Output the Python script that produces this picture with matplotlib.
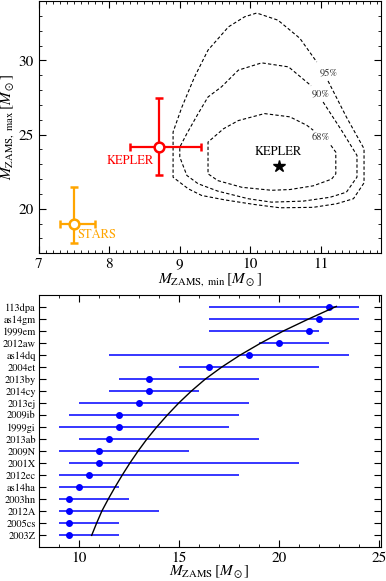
import numpy as np
import matplotlib
matplotlib.use('Agg')
import matplotlib.pyplot as plt
from matplotlib.ticker import MultipleLocator

plt.rcParams['font.family'] = ['STIXGeneral', 'DejaVu Serif']
plt.rcParams['mathtext.fontset'] = 'stix'
plt.rcParams['xtick.direction'] = 'in'
plt.rcParams['ytick.direction'] = 'in'

# ---- top panel: confidence contours (vertices, label gap at the ends)
c68_x = [11.14, 11.21, 11.21, 11.15, 10.89, 10.56, 10.30, 9.88, 9.54, 9.40, 9.40, 9.62, 9.83, 10.20, 10.56, 10.80, 10.89]
c68_y = [24.28, 23.82, 22.36, 22.00, 21.55, 21.30, 21.25, 21.45, 21.90, 22.36, 24.50, 25.40, 25.95, 26.42, 26.20, 25.63, 25.30]
c90_x = [11.03, 11.29, 11.51, 11.51, 11.36, 11.13, 10.75, 10.30, 9.97, 9.54, 9.26, 9.10, 9.00, 9.00, 9.10, 9.26, 9.40, 9.59, 9.83, 10.16, 10.54, 10.86]
c90_y = [27.20, 25.30, 23.60, 22.14, 21.12, 20.78, 20.52, 20.45, 20.68, 21.19, 21.69, 22.25, 23.49, 24.16, 25.07, 26.42, 27.54, 28.22, 29.35, 29.84, 29.57, 28.30]
c95_x = [11.10, 11.36, 11.61, 11.61, 11.46, 11.22, 10.89, 10.42, 10.06, 9.64, 9.31, 9.12, 8.905, 8.905, 9.03, 9.21, 9.40, 9.69, 9.92, 10.09, 10.39, 10.70, 10.94]
c95_y = [28.62, 26.19, 24.05, 21.75, 20.68, 20.34, 20.10, 20.07, 20.29, 20.60, 20.90, 21.35, 22.13, 25.18, 26.86, 28.90, 30.70, 32.27, 32.95, 33.20, 32.72, 31.50, 29.90]
contour_labels = ['68%', '90%', '95%']
label_x = [11.0, 11.0, 11.11]
label_y = [24.80, 27.75, 29.20]

kepler_best = (10.4, 22.9)
kepler_fit = dict(x=8.7, y=24.2, xlo=8.3, xhi=9.3, ylo=22.3, yhi=27.5)
stars_fit = dict(x=7.5, y=19.0, xlo=7.3, xhi=7.8, ylo=17.7, yhi=21.5)

# ---- bottom panel: SNe (bottom to top)
sn_names = ['2003Z', '2005cs', '2012A', '2003hn', 'as14ha', '2012ec', '2001X', '2009N', '2013ab', '1999gi',
            '2009ib', '2013ej', '2014cy', '2013by', '2004et', 'as14dq', '2012aw', '1999em', 'as14gm', '113dpa']
sn_mass = [9.5, 9.5, 9.5, 9.5, 10.0, 10.5, 11.0, 11.0, 11.5, 12.0, 12.0, 13.0, 13.5, 13.5, 16.5, 18.5, 20.0, 21.5, 22.0, 22.5]
sn_lo = [9.0, 9.0, 9.0, 9.0, 9.0, 9.0, 9.5, 9.0, 10.0, 9.0, 9.5, 10.0, 11.5, 12.0, 15.0, 11.5, 19.0, 16.5, 16.5, 16.5]
sn_hi = [12.0, 12.0, 14.0, 12.5, 12.0, 18.0, 21.0, 15.5, 19.0, 17.5, 18.0, 18.5, 16.0, 19.0, 22.0, 23.5, 22.5, 22.0, 24.0, 24.0]

curve_m = [10.65, 10.90, 11.16, 11.48, 11.82, 12.18, 12.56, 12.97, 13.41, 13.90, 14.43, 15.00, 15.63,
           16.33, 17.15, 18.07, 19.10, 20.22, 21.48, 22.80, 22.87]
curve_rank = [-0.03, 1.0, 2.0, 3.0, 4.0, 5.0, 6.0, 7.0, 8.0, 9.0, 10.0, 11.0, 12.0,
              13.0, 14.0, 15.0, 16.0, 17.0, 18.0, 19.0, 19.05]

fig = plt.figure(figsize=(3.86, 5.81), dpi=100)

# top panel
ax1 = fig.add_axes([0.100, 0.564, 0.887, 0.434])
for cx, cy in [(c68_x, c68_y), (c90_x, c90_y), (c95_x, c95_y)]:
    ax1.plot(cx, cy, color='k', ls=(0, (3, 2)), lw=0.8)
for lab, lx, ly in zip(contour_labels, label_x, label_y):
    ax1.text(lx, ly, lab, fontsize=7.5, ha='center', va='center', color='#333333')

ax1.plot(kepler_best[0], kepler_best[1], marker='*', color='k', ms=9, ls='none')
ax1.text(kepler_best[0], kepler_best[1] + 0.55, 'KEPLER', fontsize=9, ha='center', va='bottom')

for fit, col, lab, tx, ty in [(kepler_fit, 'red', 'KEPLER', 8.30, 23.2), (stars_fit, 'orange', 'STARS', 7.83, 18.25)]:
    ax1.errorbar(fit['x'], fit['y'],
                 xerr=[[fit['x'] - fit['xlo']], [fit['xhi'] - fit['x']]],
                 yerr=[[fit['y'] - fit['ylo']], [fit['yhi'] - fit['y']]],
                 fmt='o', color=col, mfc='white', mec=col, ms=7, mew=1.8, lw=1.6, capsize=3, capthick=1.6)
    ax1.text(tx, ty, lab, color=col, fontsize=9, ha='center', va='center')

ax1.set_xlim(7, 11.85)
ax1.set_ylim(17, 34)
ax1.xaxis.set_major_locator(MultipleLocator(1))
ax1.xaxis.set_minor_locator(MultipleLocator(0.1))
ax1.yaxis.set_major_locator(MultipleLocator(5))
ax1.yaxis.set_minor_locator(MultipleLocator(1))
ax1.tick_params(which='both', top=True, right=True, labelsize=11)
ax1.tick_params(which='major', length=5, width=0.8)
ax1.tick_params(which='minor', length=2.5, width=0.6)
ax1.tick_params(axis='x', pad=3)
ax1.set_xlabel(r'$M_{\mathrm{ZAMS,\ min}}\,[M_\odot]$', fontsize=11, labelpad=0)
ax1.set_ylabel(r'$M_{\mathrm{ZAMS,\ max}}\,[M_\odot]$', fontsize=11, labelpad=2)

# bottom panel
ax2 = fig.add_axes([0.100, 0.0585, 0.887, 0.4337])
ypos = np.arange(len(sn_names))
ax2.hlines(ypos, sn_lo, sn_hi, color='#0000ff', lw=1.1)
ax2.plot(sn_mass, ypos, 'o', color='#0000ff', ms=4)
ax2.plot(curve_m, curve_rank, color='k', lw=1.0)
ax2.set_yticks(ypos)
ax2.set_yticklabels(sn_names, fontsize=7.5)
ax2.set_xlim(8, 25.1)
ax2.set_ylim(-1, 20)
ax2.xaxis.set_major_locator(MultipleLocator(5))
ax2.xaxis.set_minor_locator(MultipleLocator(1))
ax2.tick_params(which='both', top=True, right=True)
ax2.tick_params(axis='x', labelsize=11, pad=3)
ax2.tick_params(axis='y', pad=2)
ax2.tick_params(which='major', length=5, width=0.8)
ax2.tick_params(which='minor', length=2.5, width=0.6)
ax2.set_xlabel(r'$M_{\mathrm{ZAMS}}\,[M_\odot]$', fontsize=11, labelpad=-1)

fig.savefig('out.png', dpi=100)
